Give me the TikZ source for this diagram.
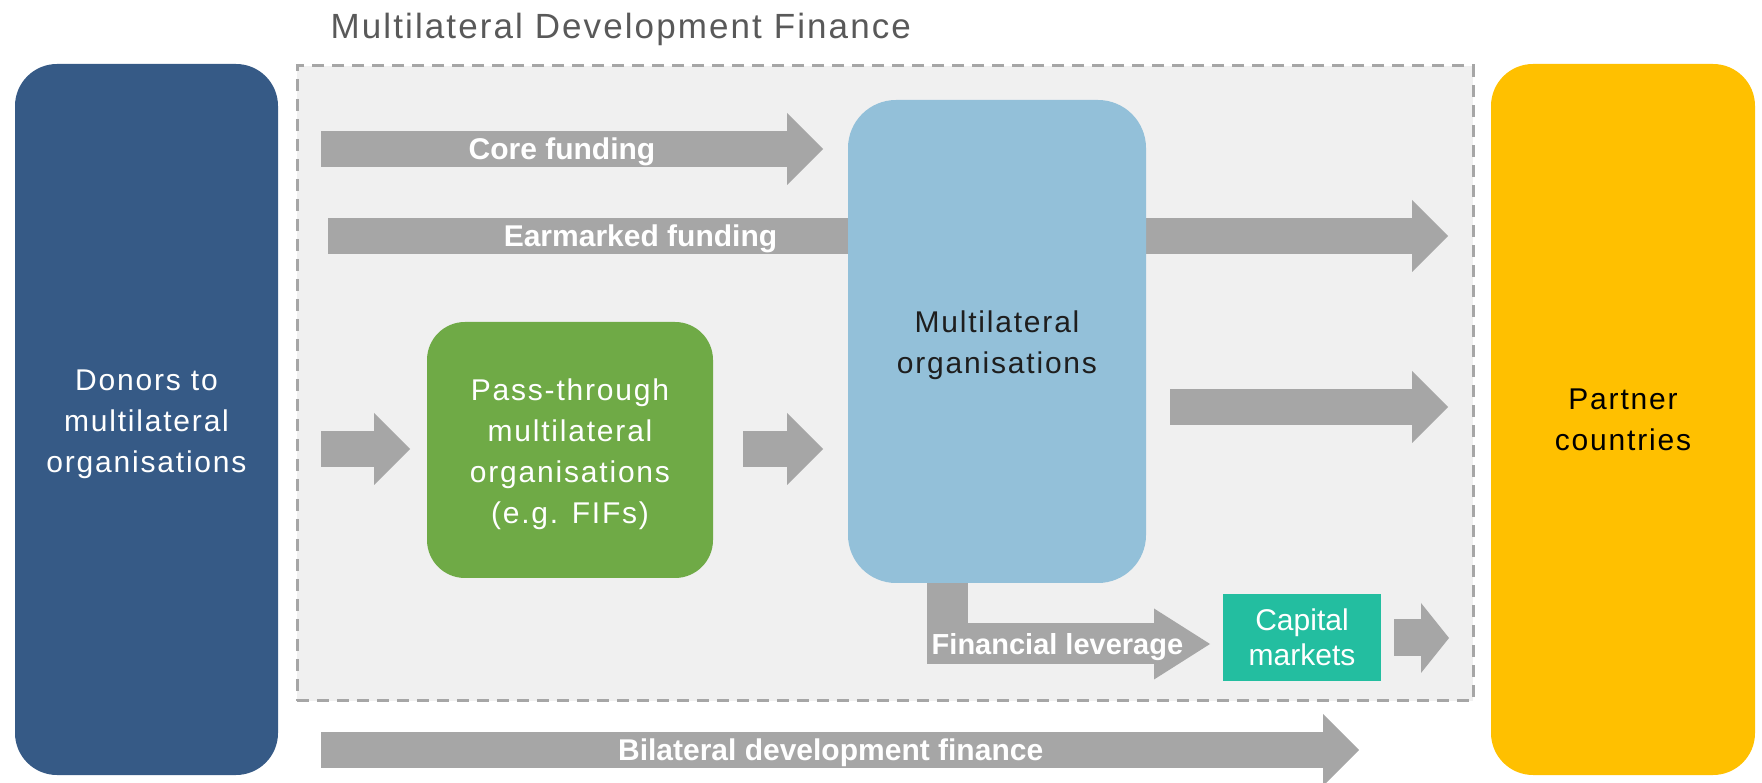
\documentclass[tikz,border=0pt]{standalone}
\usepackage{fontspec}
\setmainfont{Liberation Sans}
\newfontfamily\spacedfont[LetterSpace=6]{Liberation Sans}
\usetikzlibrary{arrows.meta}

\definecolor{donorblue}{HTML}{365A86}
\definecolor{panelgray}{HTML}{F0F0F0}
\definecolor{flowgray}{HTML}{A6A6A6}
\definecolor{passgreen}{HTML}{6FAA46}
\definecolor{multiblue}{HTML}{93C0D9}
\definecolor{multitext}{HTML}{1E1E1E}
\definecolor{capteal}{HTML}{23BEA0}
\definecolor{partnergold}{HTML}{FFC000}
\definecolor{titlegray}{HTML}{595959}

\begin{document}
\begin{tikzpicture}[x=1pt, y=1pt,
		box/.style={rounded corners=42pt, inner sep=0pt},
		boxtext/.style={inner sep=0pt, align=center, font=\spacedfont\fontsize{30}{41}\selectfont},
		flow/.style={draw=flowgray, line width=36pt, -{Triangle[width=72pt, length=36pt, line width=0pt]}},
		flowlabel/.style={text=white, inner sep=0pt, yshift=-3pt, font=\bfseries\fontsize{30}{36}\selectfont}]
		\useasboundingbox (0,0) rectangle (1762,782);
		\clip (0,0) rectangle (1762,782);
		\node[draw=flowgray, fill=panelgray, line width=3pt, dash pattern=on 12pt off 8pt, minimum width=1176pt, minimum height=635pt] (panel) at (885,398.5) {};
		\node[anchor=base west, inner sep=0pt, text=titlegray, font=\spacedfont\fontsize{35}{42}\selectfont] (title) at ([xshift=35pt, yshift=26pt]panel.north west) {Multilateral Development Finance};
		\coordinate (core-s) at (321,633);
		\coordinate (core-e) at (823,633);
		\coordinate (mark-s) at (328,546);
		\coordinate (mark-e) at (1448,546);
		\coordinate (pass-in-s) at (321,333);
		\coordinate (pass-in-e) at (410,333);
		\coordinate (pass-out-s) at (743,333);
		\coordinate (pass-out-e) at (823,333);
		\coordinate (multi-s) at (1170,375);
		\coordinate (multi-e) at (1448,375);
		\coordinate (lever-s) at (947,230);
		\coordinate (lever-e) at (1210,138);
		\coordinate (cap-s) at (1394,144);
		\coordinate (cap-e) at (1449,144);
		\coordinate (bilat-s) at (321,32);
		\coordinate (bilat-e) at (1359,32);
		\draw[flow] (mark-s) -- node[flowlabel, pos=0.279] {Earmarked funding} (mark-e);
		\draw[flow, line width=41pt, line join=miter, -{Triangle[width=71pt, length=56pt, line width=0pt]}] (lever-s) |- node[flowlabel, pos=0.71, font=\bfseries\fontsize{29}{34}\selectfont] {Financial leverage} (lever-e);
		\node[box, fill=multiblue, rounded corners=48pt, minimum width=298pt, minimum height=483pt] (multi) at (997,440.5) {};
		\node[boxtext, text=multitext] (multi-text) at ([yshift=-4pt]multi.center) {Multilateral\\organisations};
		\node[box, fill=donorblue, minimum width=263pt, minimum height=711pt] (donors) at (146.5,362.5) {};
		\node[boxtext, text=white] (donors-text) at ([yshift=-5pt]donors.center) {Donors to\\multilateral\\organisations};
		\node[box, fill=partnergold, minimum width=264pt, minimum height=711pt] (partner) at (1623,362.5) {};
		\node[boxtext, text=black] (partner-text) at (partner.center) {Partner\\countries};
		\node[box, fill=passgreen, rounded corners=38pt, minimum width=286pt, minimum height=256pt] (pass) at (570,332) {};
		\node[boxtext, text=white] (pass-text) at ([yshift=-4pt]pass.center) {Pass-through\\multilateral\\organisations\\(e.g. FIFs)};
		\node[box, fill=capteal, text=white, sharp corners, align=center, minimum width=158pt, minimum height=87pt, font=\fontsize{30}{35}\selectfont] (capital) at (1302,144.5) {Capital\\markets};
		\draw[flow] (core-s) -- node[flowlabel, pos=0.48] {Core funding} (core-e);
		\draw[flow] (pass-in-s) -- (pass-in-e);
		\draw[flow] (pass-out-s) -- (pass-out-e);
		\draw[flow] (multi-s) -- (multi-e);
		\draw[flow, line width=37pt, -{Triangle[width=70pt, length=28pt, line width=0pt]}] (cap-s) -- (cap-e);
		\draw[flow] (bilat-s) -- node[flowlabel, pos=0.491] {Bilateral development finance} (bilat-e);
	\end{tikzpicture}
\end{document}
